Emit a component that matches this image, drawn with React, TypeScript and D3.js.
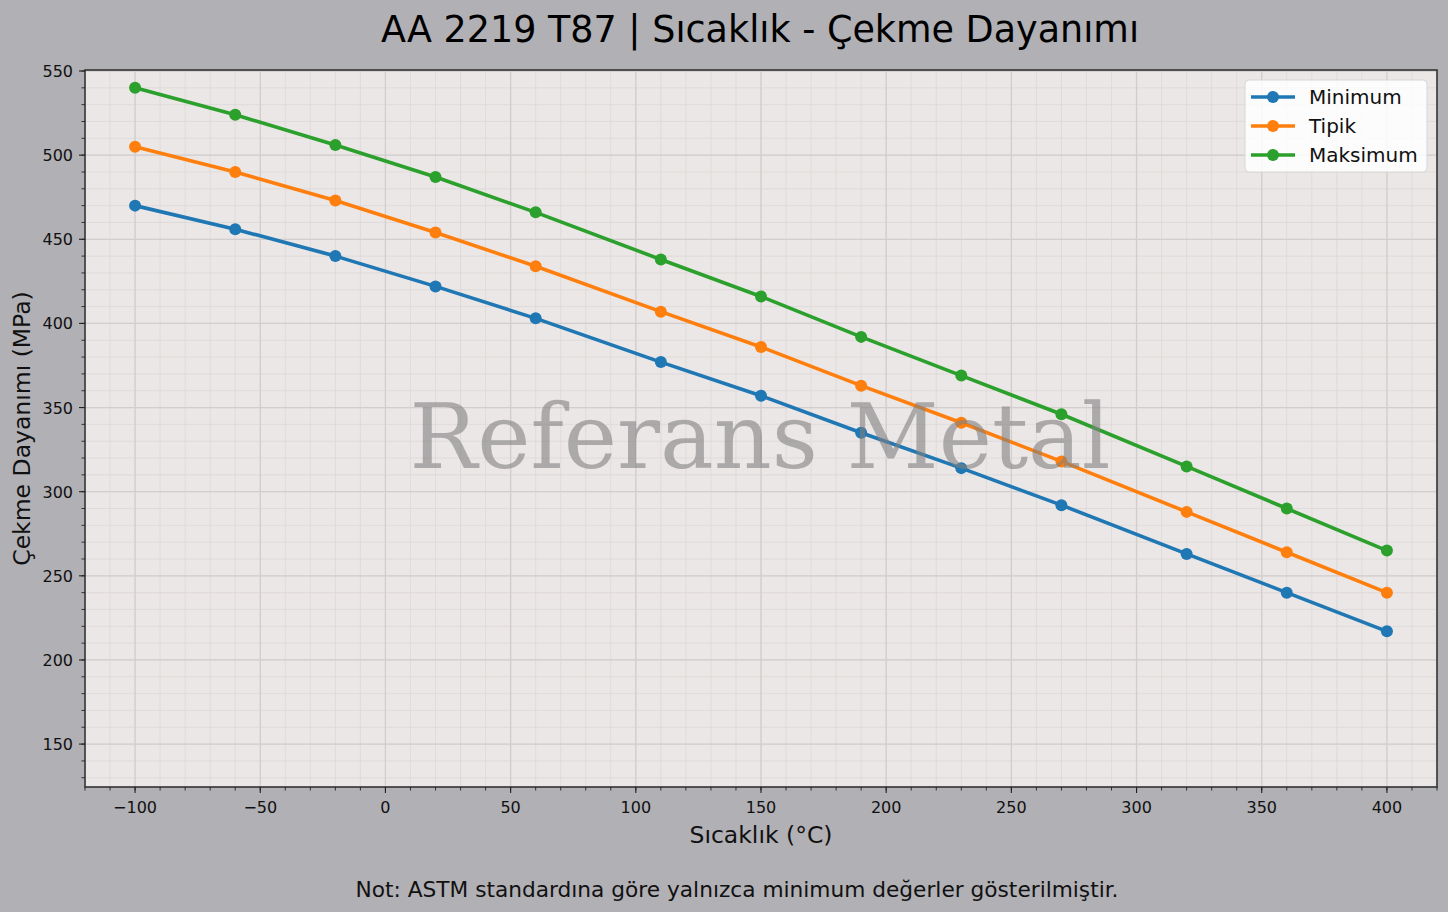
import { useEffect, useRef } from 'react';
import * as d3 from 'd3';

const temps = [-100, -60, -20, 20, 60, 110, 150, 190, 230, 270, 320, 360, 400];
const minimum = [470, 456, 440, 422, 403, 377, 357, 335, 314, 292, 263, 240, 217];
const tipik = [505, 490, 473, 454, 434, 407, 386, 363, 341, 318, 288, 264, 240];
const maksimum = [540, 524, 506, 487, 466, 438, 416, 392, 369, 346, 315, 290, 265];

const seriesNames = ['Minimum', 'Tipik', 'Maksimum'];
const seriesColors = ['#1f77b4', '#ff7f0e', '#2ca02c'];
const xTicks = [-100, -50, 0, 50, 100, 150, 200, 250, 300, 350, 400];
const yTicks = [150, 200, 250, 300, 350, 400, 450, 500, 550];

const W = 1448;
const H = 912;
const FONT = '"DejaVu Sans", sans-serif';

export default function App() {
  const ref = useRef<SVGSVGElement>(null);

  useEffect(() => {
    if (!ref.current) return;
    const svg = d3.select(ref.current);
    svg.selectAll('*').remove();

    const margin = { top: 70, right: 11, bottom: 125, left: 85 };
    const innerW = W - margin.left - margin.right;
    const innerH = H - margin.top - margin.bottom;

    // figure background
    svg.append('rect').attr('width', W).attr('height', H).attr('fill', '#b1b0b5');

    const x = d3.scaleLinear().domain([-120, 420]).range([0, innerW]);
    const y = d3.scaleLinear().domain([124.5, 550.6]).range([innerH, 0]);

    const g = svg.append('g').attr('transform', `translate(${margin.left},${margin.top})`);
    g.append('rect').attr('width', innerW).attr('height', innerH).attr('fill', '#ebe7e6');

    // minor grid
    const xMinor = d3.range(-120, 421, 10);
    const yMinor = d3.range(130, 551, 10);
    g.append('g')
      .selectAll('line')
      .data(xMinor)
      .enter()
      .append('line')
      .attr('x1', (d) => x(d)).attr('x2', (d) => x(d))
      .attr('y1', 0).attr('y2', innerH)
      .attr('stroke', '#dcd8d7').attr('stroke-width', 0.8);
    g.append('g')
      .selectAll('line')
      .data(yMinor)
      .enter()
      .append('line')
      .attr('y1', (d) => y(d)).attr('y2', (d) => y(d))
      .attr('x1', 0).attr('x2', innerW)
      .attr('stroke', '#dcd8d7').attr('stroke-width', 0.8);

    // major grid
    g.append('g')
      .selectAll('line')
      .data(xTicks)
      .enter()
      .append('line')
      .attr('x1', (d) => x(d)).attr('x2', (d) => x(d))
      .attr('y1', 0).attr('y2', innerH)
      .attr('stroke', '#d2cecd').attr('stroke-width', 1.3);
    g.append('g')
      .selectAll('line')
      .data(yTicks)
      .enter()
      .append('line')
      .attr('y1', (d) => y(d)).attr('y2', (d) => y(d))
      .attr('x1', 0).attr('x2', innerW)
      .attr('stroke', '#d2cecd').attr('stroke-width', 1.3);

    // series
    const allSeries = [minimum, tipik, maksimum];
    const line = d3
      .line<number>()
      .x((_, i) => x(temps[i]))
      .y((d) => y(d));
    allSeries.forEach((vals, si) => {
      g.append('path')
        .datum(vals)
        .attr('d', line)
        .attr('fill', 'none')
        .attr('stroke', seriesColors[si])
        .attr('stroke-width', 3.6)
        .attr('stroke-linejoin', 'round');
      g.append('g')
        .selectAll('circle')
        .data(vals)
        .enter()
        .append('circle')
        .attr('cx', (_, i) => x(temps[i]))
        .attr('cy', (d) => y(d))
        .attr('r', 6)
        .attr('fill', seriesColors[si]);
    });

    // watermark
    g.append('text')
      .attr('x', innerW / 2 - 1)
      .attr('y', y(350) + 60)
      .attr('text-anchor', 'middle')
      .attr('font-family', '"DejaVu Serif", serif')
      .attr('font-size', 90)
      .attr('fill', '#808080')
      .attr('fill-opacity', 0.6)
      .text('Referans Metal');

    // spines
    g.append('rect')
      .attr('width', innerW).attr('height', innerH)
      .attr('fill', 'none').attr('stroke', '#333').attr('stroke-width', 1.6);

    // x axis
    const xAxis = g.append('g').attr('transform', `translate(0,${innerH})`);
    xAxis.selectAll('line.minor')
      .data(xMinor)
      .enter()
      .append('line')
      .attr('x1', (d) => x(d)).attr('x2', (d) => x(d))
      .attr('y1', 0).attr('y2', 3.5)
      .attr('stroke', '#222').attr('stroke-width', 0.9);
    xAxis.selectAll('line.major')
      .data(xTicks)
      .enter()
      .append('line')
      .attr('x1', (d) => x(d)).attr('x2', (d) => x(d))
      .attr('y1', 0).attr('y2', 6)
      .attr('stroke', '#222').attr('stroke-width', 1.1);
    xAxis.selectAll('text')
      .data(xTicks)
      .enter()
      .append('text')
      .attr('x', (d) => x(d))
      .attr('y', 26)
      .attr('text-anchor', 'middle')
      .attr('font-family', FONT)
      .attr('font-size', 16)
      .attr('fill', '#111')
      .text((d) => (d < 0 ? `\u2212${Math.abs(d)}` : `${d}`));

    // y axis
    const yAxis = g.append('g');
    yAxis.selectAll('line.minor')
      .data(yMinor)
      .enter()
      .append('line')
      .attr('y1', (d) => y(d)).attr('y2', (d) => y(d))
      .attr('x1', 0).attr('x2', -3.5)
      .attr('stroke', '#222').attr('stroke-width', 0.9);
    yAxis.selectAll('line.major')
      .data(yTicks)
      .enter()
      .append('line')
      .attr('y1', (d) => y(d)).attr('y2', (d) => y(d))
      .attr('x1', 0).attr('x2', -6)
      .attr('stroke', '#222').attr('stroke-width', 1.1);
    yAxis.selectAll('text')
      .data(yTicks)
      .enter()
      .append('text')
      .attr('x', -12)
      .attr('y', (d) => y(d) + 6)
      .attr('text-anchor', 'end')
      .attr('font-family', FONT)
      .attr('font-size', 16)
      .attr('fill', '#111')
      .text((d) => `${d}`);

    // labels
    svg.append('text')
      .attr('x', W / 2 + 36)
      .attr('y', 42)
      .attr('text-anchor', 'middle')
      .attr('font-family', FONT)
      .attr('font-size', 36.5)
      .attr('fill', '#000')
      .text('AA 2219 T87 | Sıcaklık - Çekme Dayanımı');
    svg.append('text')
      .attr('x', margin.left + innerW / 2)
      .attr('y', 843)
      .attr('text-anchor', 'middle')
      .attr('font-family', FONT)
      .attr('font-size', 23.5)
      .attr('fill', '#111')
      .text('Sıcaklık (°C)');
    svg.append('text')
      .attr('transform', `translate(30,${margin.top + innerH / 2}) rotate(-90)`)
      .attr('text-anchor', 'middle')
      .attr('font-family', FONT)
      .attr('font-size', 23.5)
      .attr('fill', '#111')
      .text('Çekme Dayanımı (MPa)');
    svg.append('text')
      .attr('x', W / 2 + 13)
      .attr('y', 897)
      .attr('text-anchor', 'middle')
      .attr('font-family', FONT)
      .attr('font-size', 21.7)
      .attr('fill', '#111')
      .text('Not: ASTM standardına göre yalnızca minimum değerler gösterilmiştir.');

    // legend
    const lg = svg.append('g').attr('transform', 'translate(1245,80)');
    lg.append('rect')
      .attr('width', 182).attr('height', 92).attr('rx', 4)
      .attr('fill', '#ffffff').attr('fill-opacity', 0.85)
      .attr('stroke', '#d6d6d6').attr('stroke-width', 1);
    seriesNames.forEach((name, i) => {
      const cy = 17 + i * 29;
      lg.append('line')
        .attr('x1', 6).attr('x2', 50).attr('y1', cy).attr('y2', cy)
        .attr('stroke', seriesColors[i]).attr('stroke-width', 3.6);
      lg.append('circle').attr('cx', 28).attr('cy', cy).attr('r', 6).attr('fill', seriesColors[i]);
      lg.append('text')
        .attr('x', 64).attr('y', cy + 7)
        .attr('font-family', FONT)
        .attr('font-size', 20)
        .attr('fill', '#111')
        .text(name);
    });
  }, []);

  return (
    <svg
      ref={ref}
      width={W}
      height={H}
      style={{ position: 'absolute', left: 0, top: 0, display: 'block' }}
    />
  );
}
